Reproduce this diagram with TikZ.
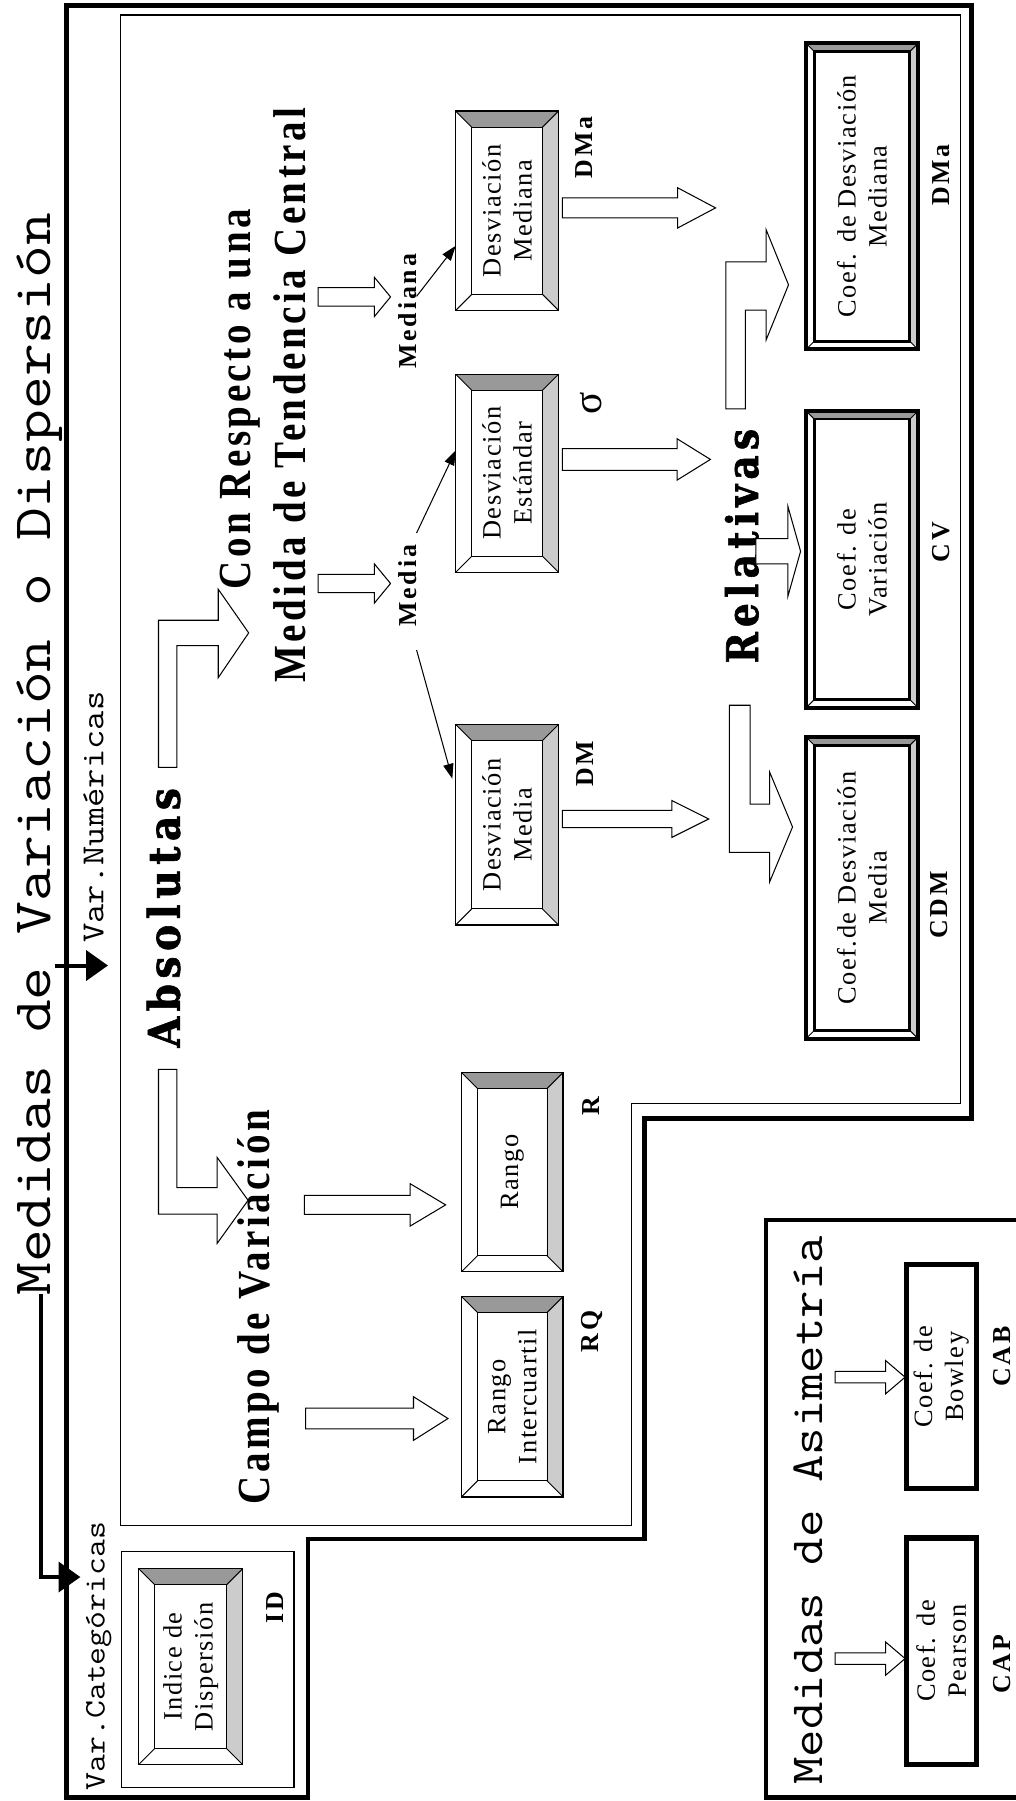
\documentclass[tikz,border=0pt]{standalone}
\usepackage{fontspec}
\usepackage{graphicx}
\usetikzlibrary{arrows.meta}
\newfontfamily\boxserif{Liberation Serif}[LetterSpace=6]
\newfontfamily\labserif{Liberation Serif}[LetterSpace=11]
\newfontfamily\bigserif{Liberation Serif}[LetterSpace=9]
\newfontfamily\heavyserif{DejaVu Serif}[FakeBold=1.5,LetterSpace=14]
\newcommand\cond[2]{\scalebox{#1}[1]{#2}}
\newcommand\monofnt[1]{\ttfamily\fontsize{#1}{#1}\selectfont}
\definecolor{bevdark}{HTML}{999999}
\definecolor{bevlight}{HTML}{CCCCCC}
\tikzset{
  thickframe/.style={line width=4pt, line join=miter},
  thinframe/.style={line width=1pt},
  boxshape/.style={rectangle, inner sep=0pt, draw=none},
  plainbox/.style={rectangle, inner sep=0pt, draw, line width=4.5pt, fill=white},
  boxtext/.style={rotate=90, align=center, inner sep=0pt, font=\boxserif\fontsize{23}{27}\selectfont},
  lab/.style={rotate=90, anchor=base, inner sep=0pt, font=\labserif\bfseries\fontsize{22.5}{25}\selectfont},
  bigtext/.style={rotate=90, anchor=base, inner sep=0pt, font=\bigserif\bfseries\fontsize{40}{48}\selectfont},
  heavytext/.style={rotate=90, anchor=base, inner sep=0pt, font=\heavyserif\bfseries\fontsize{38}{44}\selectfont},
  monotext/.style={rotate=90, anchor=base west, inner sep=0pt},
  blockstyle/.style={draw, fill=white, line width=0.9pt, line join=miter},
  thinarrow/.style={line width=0.9pt, -{Triangle[length=13pt,width=9pt]}},
  thickarrow/.style={line width=3.5pt, -{Triangle[length=19pt,width=26pt]}},
}
% bevel box drawing: node name, inset, outer line width, inner line width
\newcommand\drawbevel[4]{%
  \path (#1.north west) coordinate (o1) (#1.north east) coordinate (o2)
        (#1.south east) coordinate (o3) (#1.south west) coordinate (o4)
        ([shift={(#2pt,-#2pt)}]#1.north west) coordinate (i1)
        ([shift={(-#2pt,-#2pt)}]#1.north east) coordinate (i2)
        ([shift={(-#2pt,#2pt)}]#1.south east) coordinate (i3)
        ([shift={(#2pt,#2pt)}]#1.south west) coordinate (i4);
  \fill[white] (o1) rectangle (o3);
  \fill[bevdark] (o1) -- (o2) -- (i2) -- (i1) -- cycle;
  \fill[bevlight] (o2) -- (o3) -- (i3) -- (i2) -- cycle;
  \draw[line width=0.8pt] (o1) -- (i1) (o2) -- (i2) (o3) -- (i3) (o4) -- (i4);
  \draw[line width=#4] (i1) rectangle (i3);
  \draw[line width=#3, line join=miter] (o1) rectangle (o3);
}
% block arrow: tailx tipx cy shaft-half head-half head-length
\newcommand\blockarrow[6]{%
  \draw[blockstyle] (#1,#3-#4) -- (#2-#6,#3-#4) -- (#2-#6,#3-#5) -- (#2,#3)
     -- (#2-#6,#3+#5) -- (#2-#6,#3+#4) -- (#1,#3+#4) -- cycle;
}
\begin{document}
\begin{tikzpicture}[x=1pt,y=-1pt]
\useasboundingbox (0,0) rectangle (884,1568);
\fill[white] (0,0) rectangle (884,1568);

% ---------- frames ----------
\draw[thickframe] (58,5) -- (846,5) -- (846,974) -- (561,974) -- (561,1340)
   -- (268,1340) -- (268,1565) -- (58,1565) -- cycle;
\draw[thinframe] (105,13) -- (836,13) -- (836,961) -- (550,961) -- (550,1328)
   -- (105,1328) -- cycle;
\draw[thinframe] (106,1351) rectangle (256,1556);
\draw[thickframe] (892,1062) -- (667,1062) -- (667,1565) -- (892,1565);

% ---------- titles ----------
\node[monotext, font=\monofnt{47}] (title) at (44,1128) {\cond{1.18}{Medidas de Variación o Dispersión}};
\node[monotext, font=\monofnt{28}] (varnum) at (90,821) {\cond{1.167}{Var.Numéricas}};
\node[monotext, font=\monofnt{26}] (varcat) at (91,1559) {\cond{1.165}{Var.Categóricas}};
\node[monotext, font=\monofnt{40}] (asimtitle) at (716,1554) {\cond{1.16}{Medidas de Asimetría}};

% thick arrows from the title
\coordinate (vnstart) at (48,840.6);
\coordinate (vntip) at (94,840.6);
\draw[thickarrow] (vnstart) -- (vntip);
\coordinate (vcstart) at (36,1127);
\coordinate (vctip) at (70,1373);
\draw[thickarrow] (vcstart) |- (vctip);

% ---------- big headings ----------
\node[heavytext] (absolutas) at (156.5,799) {\cond{0.9}{Absolutas}};
\node[heavytext] (relativas) at (660,475.5) {\cond{0.86}{Relativas}};
\node[bigtext] (campo) at (235,1138) {\cond{0.85}{Campo de Variación}};
\node[bigtext] (conresp1) at (218,347.5) {\cond{0.85}{Con Respecto a una}};
\node[bigtext] (conresp2) at (266,344) {\cond{0.85}{Medida de Tendencia Central}};
\node[lab] (media) at (362.6,510) {Media};
\node[lab] (mediana) at (363,271) {Mediana};

% ---------- bevel boxes ----------
\node[boxshape, minimum width=89pt, minimum height=173pt] (dmediana) at (441.5,183.5) {};
\node[boxshape, minimum width=89pt, minimum height=172pt] (dest) at (441.5,412) {};
\node[boxshape, minimum width=89pt, minimum height=174pt] (dmedia) at (441.5,718) {};
\node[boxshape, minimum width=88pt, minimum height=173pt] (rango) at (446,1020.5) {};
\node[boxshape, minimum width=88pt, minimum height=174pt] (rq) at (446,1216) {};
\node[boxshape, minimum width=90pt, minimum height=170pt] (idbox) at (166,1451) {};
\foreach \b in {dmediana,dest,dmedia,rango,rq,idbox}{\drawbevel{\b}{14}{1.2pt}{0.8pt}}

\node[boxshape, minimum width=97pt, minimum height=266pt] (cdma) at (750.5,171) {};
\node[boxshape, minimum width=97pt, minimum height=258pt] (cv) at (750.5,487) {};
\node[boxshape, minimum width=97pt, minimum height=262pt] (cdm) at (750.5,773) {};
\foreach \b in {cdma,cv,cdm}{\drawbevel{\b}{7}{3.5pt}{2.5pt}}

\node[plainbox, minimum width=61pt, minimum height=197pt] (pearson) at (819.5,1437.5) {};
\node[plainbox, minimum width=61pt, minimum height=195pt] (bowley) at (819.5,1198.5) {};

% box texts
\node[boxtext] (t-dmediana) at (dmediana) {Desviación\\Mediana};
\node[boxtext] (t-dest) at (dest) {Desviación\\Estándar};
\node[boxtext] (t-dmedia) at (dmedia) {Desviación\\Media};
\node[boxtext] (t-rango) at (rango) {Rango};
\node[boxtext] (t-rq) at (rq) {Rango\\Intercuartil};
\node[boxtext] (t-id) at (idbox) {Indice de\\Dispersión};
\node[boxtext] (t-cdma) at (cdma) {Coef. de Desviación\\Mediana};
\node[boxtext] (t-cv) at (cv) {Coef. de\\Variación};
\node[boxtext] (t-cdm) at (cdm) {Coef.de Desviación\\Media};
\node[boxtext] (t-pearson) at (pearson) {Coef. de\\Pearson};
\node[boxtext] (t-bowley) at (bowley) {Coef. de\\Bowley};

% labels
\node[lab] (l-dma1) at (516,128.5) {DMa};
\node[lab, font=\boxserif\fontsize{36}{38}\selectfont] (l-sigma) at (524,351) {σ};
\node[lab] (l-dm) at (516.7,665) {DM};
\node[lab] (l-r) at (521.5,963) {R};
\node[lab] (l-rq) at (521,1159) {RQ};
\node[lab] (l-id) at (246.5,1400) {ID};
\node[lab] (l-cdm) at (824.6,788) {CDM};
\node[lab] (l-cv) at (827,472) {CV};
\node[lab] (l-dma2) at (827,152.5) {DMa};
\node[lab] (l-cap) at (880,1449) {CAP};
\node[lab] (l-cab) at (880,1181) {CAB};

% ---------- block arrows ----------
\blockarrow{265}{388}{1049}{8.3}{18.5}{31}
\blockarrow{266}{390}{1235}{9}{19}{30}
\blockarrow{277}{340}{508}{8}{17}{14}
\blockarrow{277}{340}{258.5}{8}{17}{14}
\blockarrow{489.6}{623}{181}{8.7}{17.5}{33}
\blockarrow{489.6}{618.5}{400}{9.5}{18}{29}
\blockarrow{489.6}{617}{713}{7.5}{16}{32}
\blockarrow{727}{788}{1444}{5}{14.5}{17}
\blockarrow{727}{788}{1199}{5}{14.5}{17}
\blockarrow{658}{697}{480}{11}{39}{11}

% bent arrows
\draw[blockstyle] (138,668) -- (138,540) -- (190,540) -- (190,513) -- (216.5,551)
   -- (190,590) -- (190,562) -- (154,562) -- (154,668) -- cycle;
\draw[blockstyle] (138,931) -- (154,931) -- (154,1034) -- (189,1034) -- (189,1007.6)
   -- (216,1045) -- (189,1082.6) -- (189,1057) -- (138,1057) -- cycle;
\draw[blockstyle] (635,614) -- (653,614) -- (653,700) -- (670,700) -- (670,672)
   -- (690,720) -- (670,768) -- (670,742) -- (635,742) -- cycle;
\draw[blockstyle] (632,356) -- (632,228) -- (667,228) -- (667,200) -- (686.5,248)
   -- (667,296) -- (667,270) -- (649,270) -- (649,356) -- cycle;

% ---------- thin connectors ----------
\coordinate (m1) at (362.7,464);
\coordinate (m2) at (362.7,566);
\coordinate (m3) at (362.7,258);
\draw[thinarrow] (m1) -- ([yshift=20pt]dest.west);
\draw[thinarrow] (m2) -- ([xshift=-3pt,yshift=40pt]dmedia.west);
\draw[thinarrow] (m3) -- ([yshift=-30.5pt]dmediana.west);
\end{tikzpicture}
\end{document}
